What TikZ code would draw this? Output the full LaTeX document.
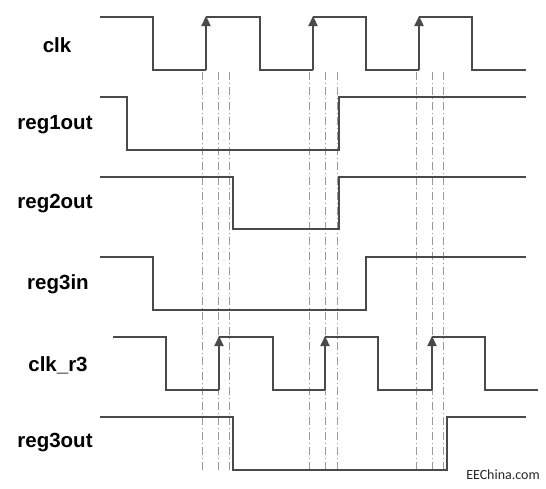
\documentclass[tikz,border=0pt]{standalone}
\usepackage{fontspec}
\setmainfont{Liberation Sans}
\newfontfamily\markfont{Carlito}
\usetikzlibrary{arrows.meta}
\definecolor{wavegray}{HTML}{4A4A4A}
\definecolor{guidegray}{HTML}{9A9A9A}
\tikzset{
  wave/.style={draw=wavegray,line width=2.3pt,line join=miter},
  edge/.style={draw=wavegray,line width=2.3pt,-{Triangle[length=10pt,width=9pt]}},
  guide/.style={draw=guidegray,line width=0.8pt,dash pattern=on 8pt off 3pt on 1pt off 3pt},
  signame/.style={font=\fontsize{20.5}{24}\selectfont\bfseries,text=black}
}
\begin{document}
\begin{tikzpicture}[x=1pt,y=-1pt]
  \useasboundingbox (0,0) rectangle (546,488);
  % signal names
  \path (57,45) node[signame] (clk) {clk};
  \path (55,125) node[signame] (regA) {reg1out};
  \path (55,204) node[signame] (regB) {reg2out};
  \path (58,284) node[signame] (regC) {reg3in};
  \path (58,365) node[signame] (clkR) {clk\_r3};
  \path (55,443) node[signame] (regD) {reg3out};

  % guide lines at the three clock edges
  \foreach \x in {202,218,229,309,325,337,416,432,443}
    \draw[guide] (\x,72) -- (\x,470);

  % clk
  \draw[wave] (100,17) -- (153,17) -- (153,70) -- (206,70);
  \draw[wave] (206,17) -- (260,17) -- (260,70) -- (313,70);
  \draw[wave] (313,17) -- (366,17) -- (366,70) -- (419,70);
  \draw[wave] (419,17) -- (472,17) -- (472,70) -- (526,70);
  \foreach \x in {206,313,419}
    \draw[edge] (\x,70) -- (\x,16);

  % reg1out
  \draw[wave] (100,97) -- (127,97) -- (127,150) -- (339,150) -- (339,97) -- (526,97);
  % reg2out
  \draw[wave] (100,177) -- (233,177) -- (233,229) -- (339,229) -- (339,177) -- (526,177);
  % reg3in
  \draw[wave] (100,257) -- (153,257) -- (153,310) -- (366,310) -- (366,257) -- (526,257);

  % clk_r3
  \draw[wave] (113,337) -- (166,337) -- (166,390) -- (219,390);
  \draw[wave] (219,337) -- (273,337) -- (273,390) -- (325,390);
  \draw[wave] (325,337) -- (378,337) -- (378,390) -- (432,390);
  \draw[wave] (432,337) -- (485,337) -- (485,390) -- (538,390);
  \foreach \x in {219,325,432}
    \draw[edge] (\x,390) -- (\x,336);

  % reg3out
  \draw[wave] (100,417) -- (233,417) -- (233,470) -- (447,470) -- (447,417) -- (526,417);

  \path (503,475) node[font=\markfont\fontsize{14}{16}\selectfont,text=black!85] (mark) {EEChina.com};
\end{tikzpicture}
\end{document}
